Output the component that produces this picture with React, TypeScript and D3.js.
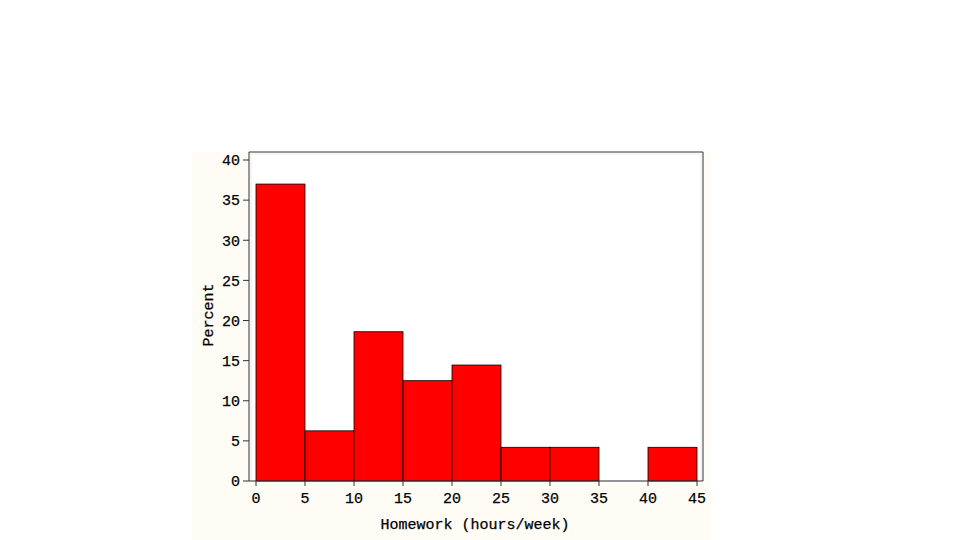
import React from "react";
import * as d3 from "d3";

const binStarts = [0, 5, 10, 15, 20, 25, 30, 35, 40];
const binWidth = 5;
const percents = [37.0, 6.25, 18.6, 12.5, 14.45, 4.2, 4.2, 0, 4.2];
const xTicks = [0, 5, 10, 15, 20, 25, 30, 35, 40, 45];
const yTicks = [0, 5, 10, 15, 20, 25, 30, 35, 40];
const xLabel = "Homework (hours/week)";
const yLabel = "Percent";

export default function App() {
  const W = 960, H = 540;
  const frame = { left: 249, right: 703, top: 152, bottom: 481 };
  const x = d3.scaleLinear().domain([0, 45]).range([256, 697]);
  const y = d3.scaleLinear().domain([0, 40]).range([481, 160]);
  const font = "'Liberation Mono', 'DejaVu Sans Mono', monospace";
  const txt = { fontFamily: font, fontSize: 15, fill: "#000", stroke: "#000", strokeWidth: 0.25 } as const;
  return (
    <svg width={W} height={H} style={{ position: "absolute", left: 0, top: 0, background: "#fff" }}>
      <rect x={192} y={152} width={519} height={388} fill="#fffcf6" />
      <rect x={frame.left} y={frame.top} width={frame.right - frame.left} height={frame.bottom - frame.top} fill="#fff" />
      <rect x={frame.left + 2} y={frame.top + 2} width={frame.right - frame.left - 4} height={frame.bottom - frame.top - 2} fill="none" stroke="#ebebeb" strokeWidth={1} />
      {binStarts.map((s, i) =>
        percents[i] > 0 ? (
          <rect key={i} x={x(s)} y={y(percents[i])} width={x(s + binWidth) - x(s)} height={y(0) - y(percents[i])}
            fill="#ff0000" stroke="#000" strokeWidth={0.8} />
        ) : null
      )}
      <path d={`M${frame.left},${frame.bottom}V${frame.top}H${frame.right}V${frame.bottom}Z`} fill="none" stroke="#333" strokeWidth={1} />
      {yTicks.map((t) => (
        <g key={t}>
          <line x1={frame.left - 6} x2={frame.left} y1={y(t)} y2={y(t)} stroke="#333" />
          <text x={frame.left - 9} y={y(t)} dy="0.35em" textAnchor="end" {...txt}>{t}</text>
        </g>
      ))}
      {xTicks.map((t) => (
        <g key={t}>
          <line x1={x(t)} x2={x(t)} y1={frame.bottom} y2={frame.bottom + 5} stroke="#333" />
          <text x={x(t)} y={frame.bottom + 22} textAnchor="middle" {...txt}>{t}</text>
        </g>
      ))}
      <text x={475} y={529} textAnchor="middle" {...txt}>{xLabel}</text>
      <text transform={`translate(213,315) rotate(-90)`} textAnchor="middle" {...txt}>{yLabel}</text>
    </svg>
  );
}
